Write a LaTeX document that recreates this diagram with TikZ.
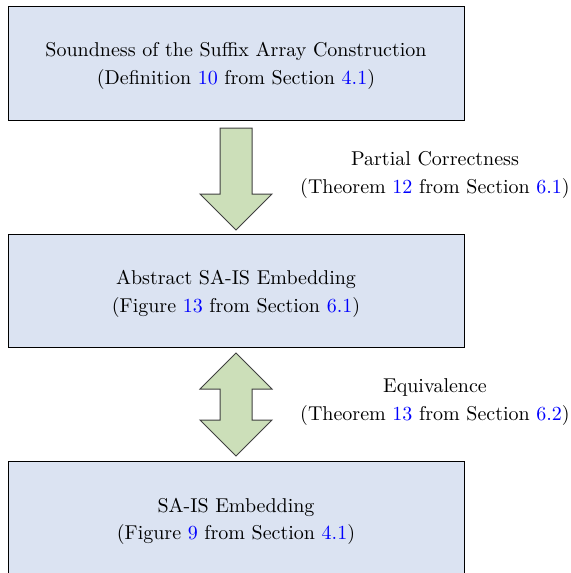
\documentclass[tikz,border=0pt]{standalone}
\usepackage{tikz}
\definecolor{stagefill}{RGB}{219,227,242}
\definecolor{arrowfill}{RGB}{204,223,185}
\newcommand{\refno}[1]{\textcolor{blue}{#1}}
\tikzset{
  stage/.style={draw, fill=stagefill},
  fatarrow/.style={draw=black!75, fill=arrowfill, line width=0.5pt},
  steplabel/.style={align=center, inner sep=0pt, font=\linespread{1.15}\selectfont}
}
\begin{document}
\begin{tikzpicture}[x=0.5pt,y=-0.5pt]
  \useasboundingbox (0,0) rectangle (570,573);
  % the three stages
  \draw[stage] (8,6) rectangle (464,120);
  \draw[stage] (8,234) rectangle (464,347);
  \draw[stage] (8,461) rectangle (464,576);
  \node[steplabel] (sound) at (236,66)
    {Soundness of the Suffix Array Construction\\(Definition \refno{10} from Section \refno{4.1})};
  \node[steplabel] (abstract) at (236,294)
    {Abstract SA-IS Embedding\\(Figure \refno{13} from Section \refno{6.1})};
  \node[steplabel] (embed) at (236,521.5)
    {SA-IS Embedding\\(Figure \refno{9} from Section \refno{4.1})};
  % the arrows between them
  \draw[fatarrow] (220,128) -- (252,128) -- (252,194) -- (272,194) -- (236,230)
    -- (200,194) -- (220,194) -- cycle;
  \draw[fatarrow] (236,353) -- (272,389) -- (252,389) -- (252,420) -- (272,420)
    -- (236,456) -- (200,420) -- (220,420) -- (220,389) -- (200,389) -- cycle;
  \node[steplabel] (partial) at (435,175)
    {Partial Correctness\\(Theorem \refno{12} from Section \refno{6.1})};
  \node[steplabel] (equiv) at (435,402)
    {Equivalence\\(Theorem \refno{13} from Section \refno{6.2})};
\end{tikzpicture}
\end{document}
